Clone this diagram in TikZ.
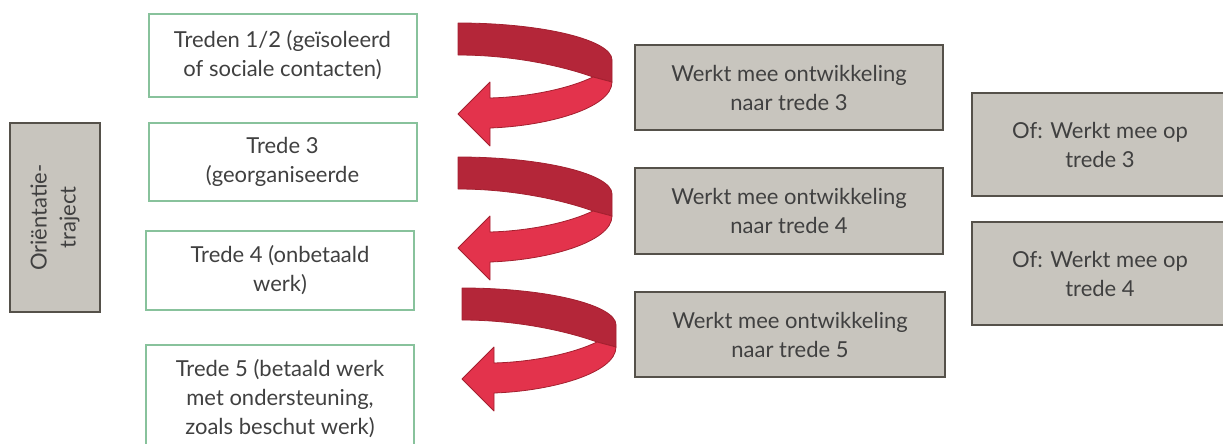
\documentclass[tikz,border=0pt]{standalone}
\usepackage{fontspec}
\setmainfont{Lato}
\definecolor{boxgray}{HTML}{C8C5BE}
\definecolor{boxborder}{HTML}{55514A}
\definecolor{boxgreen}{HTML}{88C29C}
\definecolor{textgray}{HTML}{404040}
\definecolor{darkred}{HTML}{B42639}
\definecolor{lightred}{HTML}{E3334C}
\definecolor{redline}{HTML}{A3202F}
\tikzset{
  twistarrow/.pic={
    \filldraw[fill=darkred, draw=redline, line width=0.8pt, line join=round]
      (0,0) .. controls (85,0) and (154,17) .. (154,37) -- (154,59) -- (135,54)
      .. controls (110,45) and (60,32) .. (0,32) -- cycle;
    \filldraw[fill=lightred, draw=redline, line width=0.8pt, line join=round]
      (135,54) -- (154,59) .. controls (154,85) and (90,103) .. (32,105)
      -- (32,123) -- (0,91) -- (32,59) -- (32,75)
      .. controls (70,74) and (110,66) .. (135,54) -- cycle;
  }
}
\begin{document}
\begin{tikzpicture}[x=1pt,y=-1pt,
  txt/.style={text=textgray, font=\fontsize{22}{29}\selectfont, align=center, inner sep=0pt, rectangle},
  greenbox/.style={txt, draw=boxgreen, fill=white, line width=2pt},
  graybox/.style={txt, draw=boxborder, fill=boxgray, line width=2.4pt}]
\useasboundingbox (0,0) rectangle (1223,444);
\clip (0,0) rectangle (1223,444);
% left column
\node[graybox, minimum width=189pt, minimum height=90pt, rotate=90] (orient) at (55,217.5) {Oriëntatie-\\traject};
\node[greenbox, minimum width=268pt, minimum height=82pt] (b1) at (282.5,55.5) {Treden 1/2 (geïsoleerd\\of sociale contacten)};
\node[greenbox, minimum width=268pt, minimum height=78pt] (b2) at (282.5,162) {Trede 3\\(georganiseerde};
\node[greenbox, minimum width=268pt, minimum height=79pt] (b3) at (280,270.5) {Trede 4 (onbetaald\\werk)};
\node[greenbox, minimum width=268pt, minimum height=108pt] (b4) at (280,399) {Trede 5 (betaald werk\\met ondersteuning,\\zoals beschut werk)};
% arrows
\pic at (458,23) {twistarrow};
\pic at (458,157) {twistarrow};
\pic at (462,288) {twistarrow};
% middle column
\node[graybox, minimum width=308pt, minimum height=85pt] (r1) at (789,87.5) {Werkt mee ontwikkeling\\naar trede 3};
\node[graybox, minimum width=308pt, minimum height=86pt] (r2) at (789,211) {Werkt mee ontwikkeling\\naar trede 4};
\node[graybox, minimum width=310pt, minimum height=85pt] (r3) at (790,334.5) {Werkt mee ontwikkeling\\naar trede 5};
% right column
\node[graybox, minimum width=256pt, minimum height=103pt] (o3) at (1100,144.5) {Of: Werkt mee op\\trede 3};
\node[graybox, minimum width=256pt, minimum height=103pt] (o4) at (1100,273.5) {Of: Werkt mee op\\trede 4};
\end{tikzpicture}
\end{document}
